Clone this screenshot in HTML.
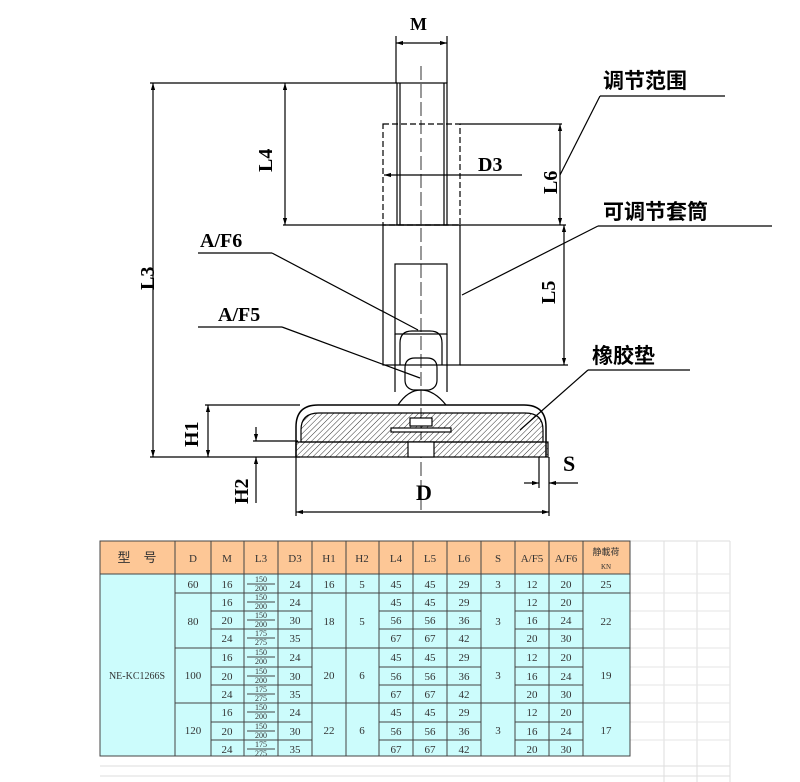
<!DOCTYPE html>
<html><head><meta charset="utf-8"><style>
body{margin:0;background:#fff;width:800px;height:782px;overflow:hidden}
svg{position:absolute;left:0;top:0}
</style></head><body>
<svg width="800" height="782" viewBox="0 0 800 782" xmlns="http://www.w3.org/2000/svg" font-family="Liberation Serif, serif">
<defs>
<pattern id="h" width="4" height="4" patternUnits="userSpaceOnUse" patternTransform="rotate(45)"><line x1="0" y1="0" x2="0" y2="4" stroke="#333" stroke-width="1"/></pattern>
<marker id="a" viewBox="0 0 10 10" refX="10" refY="5" markerWidth="6" markerHeight="6" orient="auto-start-reverse"><path d="M0,2 L10,5 L0,8z" fill="#000"/></marker>
</defs>
<g stroke="#000" stroke-width="1.2" fill="none">
<!-- M -->
<line x1="396" y1="36" x2="396" y2="83"/><line x1="447" y1="36" x2="447" y2="83"/>
<line x1="396" y1="43" x2="447" y2="43" marker-start="url(#a)" marker-end="url(#a)"/>
<!-- bolt -->
<rect x="397" y="83" width="50" height="142"/>
<line x1="400" y1="83" x2="400" y2="225"/><line x1="444" y1="83" x2="444" y2="225"/>
<line x1="421" y1="66" x2="421" y2="510" stroke-dasharray="14,4" stroke-width="0.8"/>
<!-- dashed rect -->
<rect x="383" y="124" width="77" height="101" stroke-dasharray="6,3"/>
<line x1="460" y1="124" x2="562" y2="124"/>
<line x1="384" y1="175" x2="522" y2="175" marker-start="url(#a)"/>
<line x1="560" y1="124" x2="560" y2="225" marker-start="url(#a)" marker-end="url(#a)"/>
<!-- L3/L4 -->
<line x1="150" y1="83" x2="397" y2="83"/>
<line x1="153" y1="83" x2="153" y2="457" marker-start="url(#a)" marker-end="url(#a)"/>
<line x1="285" y1="83" x2="285" y2="225" marker-start="url(#a)" marker-end="url(#a)"/>
<line x1="283" y1="225" x2="566" y2="225"/>
<!-- sleeve -->
<rect x="383" y="225" width="77" height="140"/>
<rect x="395" y="264" width="52" height="70"/>
<line x1="395" y1="334" x2="395" y2="392"/><line x1="447" y1="334" x2="447" y2="392"/>
<path d="M400,365 v-22 q0,-12 12,-12 h18 q12,0 12,12 v22" />
<path d="M405,380 v-12 q0,-10 10,-10 h12 q10,0 10,10 v12 q0,8 -8,10 h-16 q-8,-2 -8,-10z"/>
<path d="M398,405 q10,-15 23,-15 q13,0 25,15"/>
<line x1="460" y1="365" x2="568" y2="365"/>
<line x1="564" y1="225" x2="564" y2="365" marker-start="url(#a)" marker-end="url(#a)"/>
<!-- base -->
<path d="M296,457 v-30 q0,-22 22,-22 h206 q22,0 22,22 v30" stroke-width="1.5"/>
<path d="M301,442 v-12 q0,-17 18,-17 h206 q18,0 18,17 v12z" fill="url(#h)"/>
<rect x="296" y="442" width="252" height="15" fill="url(#h)"/>
<rect x="410" y="418" width="22" height="8" fill="#fff"/>
<rect x="408" y="442" width="26" height="15" fill="#fff"/>
<rect x="391" y="428" width="60" height="4" fill="#fff"/>
<!-- H1 H2 -->
<line x1="205" y1="405" x2="300" y2="405"/>
<line x1="150" y1="457" x2="300" y2="457"/>
<line x1="208" y1="405" x2="208" y2="457" marker-start="url(#a)" marker-end="url(#a)"/>
<line x1="253" y1="441" x2="298" y2="441"/>
<line x1="256" y1="427" x2="256" y2="441" marker-end="url(#a)"/>
<line x1="256" y1="457" x2="256" y2="503" marker-start="url(#a)"/>
<!-- D S -->
<line x1="296" y1="457" x2="296" y2="516"/><line x1="549" y1="457" x2="549" y2="516"/>
<line x1="296" y1="512" x2="549" y2="512" marker-start="url(#a)" marker-end="url(#a)"/>
<line x1="539" y1="457" x2="539" y2="488"/>
<line x1="524" y1="483" x2="539" y2="483" marker-end="url(#a)"/>
<line x1="549" y1="483" x2="578" y2="483" marker-start="url(#a)"/>
<!-- leaders -->
<line x1="600" y1="96" x2="725" y2="96"/><line x1="600" y1="96" x2="560" y2="175"/>
<line x1="598" y1="226" x2="772" y2="226"/><line x1="598" y1="226" x2="462" y2="295"/>
<line x1="588" y1="370" x2="690" y2="370"/><line x1="588" y1="370" x2="520" y2="430"/>
<line x1="198" y1="253" x2="272" y2="253"/><line x1="272" y1="253" x2="418" y2="330"/>
<line x1="198" y1="327" x2="282" y2="327"/><line x1="282" y1="327" x2="420" y2="378"/>
</g>
<g font-weight="bold" font-size="20" fill="#000">
<text x="410" y="30" font-size="18">M</text>
<text x="478" y="171">D3</text>
<text x="416" y="500" font-size="22">D</text>
<text x="563" y="471" font-size="22">S</text>
<text x="200" y="247">A/F6</text>
<text x="218" y="321">A/F5</text>
<text transform="translate(154,290) rotate(-90)">L3</text>
<text transform="translate(272,172) rotate(-90)">L4</text>
<text transform="translate(555,304) rotate(-90)">L5</text>
<text transform="translate(557,194) rotate(-90)">L6</text>
<text transform="translate(198,447) rotate(-90)">H1</text>
<text transform="translate(248,504) rotate(-90)">H2</text>
<g font-family="Liberation Sans, Noto Sans CJK SC, sans-serif" font-size="21">
<text x="603" y="88">调节范围</text>
<text x="603" y="219">可调节套筒</text>
<text x="592" y="363">橡胶垫</text>
</g>
</g>
<!-- table grid background -->
<g stroke="#ddd" stroke-width="1">
<line x1="630" y1="541" x2="730" y2="541"/>
<line x1="664" y1="541" x2="664" y2="782"/><line x1="697" y1="541" x2="697" y2="782"/><line x1="730" y1="541" x2="730" y2="782"/>
<line x1="100" y1="766" x2="730" y2="766"/><line x1="100" y1="776" x2="730" y2="776"/>
</g>
<g stroke="#e6e6e6">
<line x1="630" y1="574" x2="730" y2="574"/><line x1="630" y1="593" x2="730" y2="593"/><line x1="630" y1="611" x2="730" y2="611"/><line x1="630" y1="629" x2="730" y2="629"/><line x1="630" y1="648" x2="730" y2="648"/><line x1="630" y1="667" x2="730" y2="667"/><line x1="630" y1="685" x2="730" y2="685"/><line x1="630" y1="703" x2="730" y2="703"/><line x1="630" y1="722" x2="730" y2="722"/><line x1="630" y1="740" x2="730" y2="740"/>
</g>
<rect x="100" y="541" width="530" height="33" fill="#fdc796"/>
<rect x="100" y="574" width="530" height="182" fill="#ccfcfc"/>
<g stroke="#444" stroke-width="1" fill="none">
<rect x="100" y="541" width="530" height="215"/>
<line x1="100" y1="574" x2="630" y2="574"/>
<line x1="175" y1="541" x2="175" y2="756"/><line x1="211" y1="541" x2="211" y2="756"/><line x1="244" y1="541" x2="244" y2="756"/><line x1="278" y1="541" x2="278" y2="756"/><line x1="312" y1="541" x2="312" y2="756"/><line x1="346" y1="541" x2="346" y2="756"/><line x1="379" y1="541" x2="379" y2="756"/><line x1="413" y1="541" x2="413" y2="756"/><line x1="447" y1="541" x2="447" y2="756"/><line x1="481" y1="541" x2="481" y2="756"/><line x1="515" y1="541" x2="515" y2="756"/><line x1="549" y1="541" x2="549" y2="756"/><line x1="583" y1="541" x2="583" y2="756"/>
<!-- full-width separators for groups -->
<line x1="175" y1="593" x2="630" y2="593"/><line x1="175" y1="648" x2="630" y2="648"/><line x1="175" y1="703" x2="630" y2="703"/>
<!-- inner row lines -->
<path d="M211,611H312M379,611H481M515,611H583M211,629H312M379,629H481M515,629H583M211,667H312M379,667H481M515,667H583M211,685H312M379,685H481M515,685H583M211,722H312M379,722H481M515,722H583M211,740H312M379,740H481M515,740H583"/>
</g>
<g font-size="11" fill="#333" text-anchor="middle" font-family="Liberation Serif, Noto Serif CJK SC, serif">
<text x="137" y="562" font-size="13" font-family="Liberation Sans, Noto Sans CJK SC, sans-serif">型　号</text>
<text x="193" y="562">D</text><text x="227" y="562">M</text><text x="261" y="562">L3</text><text x="295" y="562">D3</text><text x="329" y="562">H1</text><text x="362" y="562">H2</text><text x="396" y="562">L4</text><text x="430" y="562">L5</text><text x="464" y="562">L6</text><text x="498" y="562">S</text><text x="532" y="562">A/F5</text><text x="566" y="562">A/F6</text>
<text x="606" y="555" font-size="9" font-family="Liberation Sans, Noto Sans CJK SC, sans-serif">静載荷</text><text x="606" y="569" font-size="7">KN</text>
<text x="137" y="679" font-size="10">NE-KC1266S</text>
<text x="193" y="588">60</text><text x="193" y="625">80</text><text x="193" y="679">100</text><text x="193" y="734">120</text>
<g>
<text x="227" y="588">16</text><text x="227" y="606">16</text><text x="227" y="624">20</text><text x="227" y="642">24</text><text x="227" y="661">16</text><text x="227" y="680">20</text><text x="227" y="698">24</text><text x="227" y="716">16</text><text x="227" y="735">20</text><text x="227" y="753">24</text>
<text x="295" y="588">24</text><text x="295" y="606">24</text><text x="295" y="624">30</text><text x="295" y="642">35</text><text x="295" y="661">24</text><text x="295" y="680">30</text><text x="295" y="698">35</text><text x="295" y="716">24</text><text x="295" y="735">30</text><text x="295" y="753">35</text>
<text x="329" y="588">16</text><text x="329" y="625">18</text><text x="329" y="679">20</text><text x="329" y="734">22</text>
<text x="362" y="588">5</text><text x="362" y="625">5</text><text x="362" y="679">6</text><text x="362" y="734">6</text>
<text x="396" y="588">45</text><text x="396" y="606">45</text><text x="396" y="624">56</text><text x="396" y="642">67</text><text x="396" y="661">45</text><text x="396" y="680">56</text><text x="396" y="698">67</text><text x="396" y="716">45</text><text x="396" y="735">56</text><text x="396" y="753">67</text>
<text x="430" y="588">45</text><text x="430" y="606">45</text><text x="430" y="624">56</text><text x="430" y="642">67</text><text x="430" y="661">45</text><text x="430" y="680">56</text><text x="430" y="698">67</text><text x="430" y="716">45</text><text x="430" y="735">56</text><text x="430" y="753">67</text>
<text x="464" y="588">29</text><text x="464" y="606">29</text><text x="464" y="624">36</text><text x="464" y="642">42</text><text x="464" y="661">29</text><text x="464" y="680">36</text><text x="464" y="698">42</text><text x="464" y="716">29</text><text x="464" y="735">36</text><text x="464" y="753">42</text>
<text x="498" y="588">3</text><text x="498" y="625">3</text><text x="498" y="679">3</text><text x="498" y="734">3</text>
<text x="532" y="588">12</text><text x="532" y="606">12</text><text x="532" y="624">16</text><text x="532" y="642">20</text><text x="532" y="661">12</text><text x="532" y="680">16</text><text x="532" y="698">20</text><text x="532" y="716">12</text><text x="532" y="735">16</text><text x="532" y="753">20</text>
<text x="566" y="588">20</text><text x="566" y="606">20</text><text x="566" y="624">24</text><text x="566" y="642">30</text><text x="566" y="661">20</text><text x="566" y="680">24</text><text x="566" y="698">30</text><text x="566" y="716">20</text><text x="566" y="735">24</text><text x="566" y="753">30</text>
<text x="606" y="588">25</text><text x="606" y="625">22</text><text x="606" y="679">19</text><text x="606" y="734">17</text>
</g>
<g font-size="8">
<text x="261" y="582">150</text><text x="261" y="591">200</text>
<text x="261" y="600">150</text><text x="261" y="609">200</text>
<text x="261" y="618">150</text><text x="261" y="627">200</text>
<text x="261" y="636">175</text><text x="261" y="645">275</text>
<text x="261" y="655">150</text><text x="261" y="664">200</text>
<text x="261" y="674">150</text><text x="261" y="683">200</text>
<text x="261" y="692">175</text><text x="261" y="701">275</text>
<text x="261" y="710">150</text><text x="261" y="719">200</text>
<text x="261" y="729">150</text><text x="261" y="738">200</text>
<text x="261" y="747">175</text><text x="261" y="756">275</text>
</g>
</g>
<g stroke="#444"><path d="M247,584H275M247,602H275M247,620H275M247,638H275M247,657H275M247,676H275M247,694H275M247,712H275M247,731H275M247,749H275"/></g>
</svg>
</body></html>
